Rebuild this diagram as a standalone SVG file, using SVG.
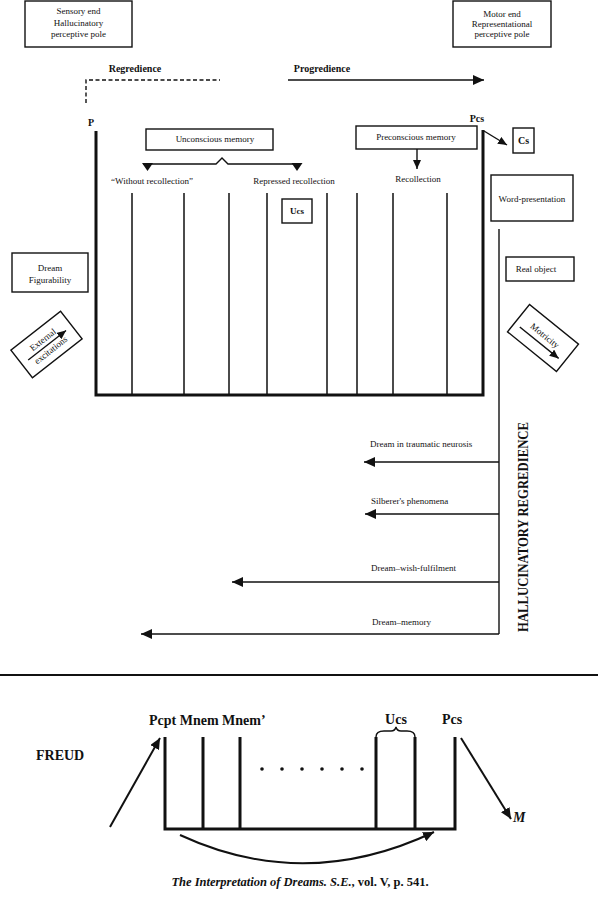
<svg xmlns="http://www.w3.org/2000/svg" width="598" height="900" viewBox="0 0 598 900">
<defs>
<marker id="ah" markerUnits="userSpaceOnUse" markerWidth="9" markerHeight="8" refX="9" refY="4" orient="auto"><path d="M0,0 L9,4 L0,8 z" fill="#111"/></marker>
<marker id="ahb" markerUnits="userSpaceOnUse" markerWidth="11" markerHeight="10" refX="11" refY="5" orient="auto"><path d="M0,0 L11,5 L0,10 z" fill="#111"/></marker>
<style>
text{font-family:"Liberation Serif","Times New Roman",serif;fill:#111}
.s{font-size:9px;text-anchor:middle}
.l{font-size:9px}
.b{font-weight:bold}
.box{fill:none;stroke:#111;stroke-width:1.4}
.th{fill:none;stroke:#111;stroke-width:3}
.tn{fill:none;stroke:#111;stroke-width:1.5}
.c{fill:none;stroke:#111;stroke-width:1.4}
</style>
</defs>
<rect width="598" height="900" fill="#fff"/>

<g id="sensory-pole"><rect class="box" x="25" y="1" width="107" height="46"/>
<text class="s" x="78.5" y="14">Sensory end</text><text class="s" x="78.5" y="26">Hallucinatory</text><text class="s" x="78.5" y="37">perceptive pole</text></g>

<g id="motor-pole"><rect class="box" x="453" y="1" width="98" height="46"/>
<text class="s" x="502" y="17">Motor end</text><text class="s" x="502" y="27">Representational</text><text class="s" x="502" y="37">perceptive pole</text></g>

<g id="regredience"><text class="s b" x="135" y="72" style="font-size:10px">Regredience</text></g>
<g id="progredience"><text class="s b" x="322" y="72" style="font-size:10px">Progredience</text></g>

<g id="apparatus">
<path class="th" d="M96,131 V395 H483 V130"/>
<g class="tn"><path d="M132,193V395M184,193V395M229,193V395M267,193V395M327,193V395M357,193V395M393,193V395M447,193V395"/></g>
<text class="b" x="88" y="126" style="font-size:10px">P</text>
<text class="s b" x="477" y="122" style="font-size:10px">Pcs</text>
</g>

<g id="unconscious-memory"><rect class="box" x="146" y="129" width="127" height="21"/><text class="s" x="215" y="142">Unconscious memory</text></g>
<g id="preconscious-memory"><rect class="box" x="356" y="126" width="121" height="23"/><text class="s" x="416" y="140">Preconscious memory</text></g>
<g id="cs"><rect class="box" x="513" y="128" width="21" height="25"/><text class="s b" x="523.5" y="144" style="font-size:10px">Cs</text></g>
<g id="without-recollection"><text class="s" x="152" y="184">“Without recollection”</text></g>
<g id="repressed-recollection"><text class="s" x="294" y="184">Repressed recollection</text></g>
<g id="recollection"><text class="s" x="418" y="182">Recollection</text></g>
<g id="ucs"><rect class="box" x="282" y="199" width="30" height="24"/><text class="s b" x="297" y="214">Ucs</text></g>
<g id="word-presentation"><rect class="box" x="491" y="175" width="82" height="46"/><text class="s" x="532" y="202">Word-presentation</text></g>
<g id="real-object"><rect class="box" x="506" y="257" width="68" height="24"/><text class="s" x="536" y="272">Real object</text></g>
<g id="dream-figurability"><rect class="box" x="12" y="253" width="76" height="39"/><text class="s" x="50" y="271">Dream</text><text class="s" x="50" y="283">Figurability</text></g>

<g id="external-excitations" transform="translate(46.5,344.5) rotate(-38)"><rect class="box" x="-31.5" y="-17.5" width="63" height="35"/>
<text class="s" x="0" y="-3">External</text><line class="c" x1="-24" y1="1" x2="24" y2="1" marker-end="url(#ah)"/><text class="s" x="0" y="10">excitations</text></g>

<g id="motricity" transform="translate(543,338) rotate(39)"><rect class="box" x="-31.5" y="-17.5" width="63" height="35"/>
<text class="s" x="0" y="0">Motricity</text><line class="c" x1="-25" y1="6" x2="25" y2="6" marker-end="url(#ah)"/></g>

<g id="hallucinatory-regredience"><text class="b" transform="translate(528,527) rotate(-90)" text-anchor="middle" style="font-size:15px" textLength="210" lengthAdjust="spacingAndGlyphs">HALLUCINATORY REGREDIENCE</text></g>

<g id="regression-labels">
<text class="l" x="370" y="447">Dream in traumatic neurosis</text>
<text class="l" x="371" y="504">Silberer's phenomena</text>
<text class="l" x="371" y="571">Dream–wish-fulfilment</text>
<text class="l" x="372" y="625">Dream–memory</text>
</g>

<g id="connectors">
<path class="c" d="M86,103 V80 H220" stroke-dasharray="4,2.5"/>
<line class="c" x1="288" y1="80" x2="484" y2="80" marker-end="url(#ahb)"/>
<path class="c" d="M143,164 H216 L222,158 L228,164 H300"/>
<path d="M142,163 H153 L147.5,171 z M291.5,163 H302.5 L297,171 z" fill="#111"/>
<line class="c" x1="417" y1="149" x2="417" y2="169" marker-end="url(#ah)"/>
<line class="c" x1="484" y1="131" x2="507" y2="145" marker-end="url(#ah)"/>
<path class="c" d="M499,229 V634"/>
<line class="c" x1="499" y1="462" x2="364" y2="462" marker-end="url(#ahb)"/>
<line class="c" x1="499" y1="514" x2="365" y2="514" marker-end="url(#ahb)"/>
<line class="c" x1="499" y1="582" x2="232" y2="582" marker-end="url(#ahb)"/>
<line class="c" x1="499" y1="634" x2="141" y2="634" marker-end="url(#ahb)"/>
</g>

<line id="separator" x1="0" y1="675" x2="598" y2="675" stroke="#111" stroke-width="2.2"/>

<g id="freud-scheme">
<text class="b" x="36" y="760" style="font-size:14px">FREUD</text>
<text class="b" x="149" y="725" style="font-size:14px">Pcpt Mnem Mnem’</text>
<text class="b s" x="396" y="724" style="font-size:14px">Ucs</text>
<text class="b s" x="452" y="724" style="font-size:14px">Pcs</text>
<path class="th" d="M165,737 V829 H455 V737"/>
<path class="th" d="M203,737V829M240,737V829M376,737V829M415,737V829"/>
<path class="c" d="M376,737 Q376,731 384,731 H391 Q395,731 396,727 Q397,731 401,731 H407 Q415,731 415,737"/>
<g fill="#111"><circle cx="262" cy="769" r="1.8"/><circle cx="282" cy="769" r="1.8"/><circle cx="302" cy="769" r="1.8"/><circle cx="322" cy="769" r="1.8"/><circle cx="342" cy="769" r="1.8"/><circle cx="362" cy="769" r="1.8"/></g>
<text class="b" x="513" y="822" style="font-size:14px;font-style:italic">M</text>
</g>

<g id="freud-connectors">
<line x1="110" y1="827" x2="160" y2="738" stroke="#111" stroke-width="2" marker-end="url(#ahb)"/>
<line x1="461" y1="738" x2="511" y2="819" stroke="#111" stroke-width="2" marker-end="url(#ahb)"/>
<path d="M180,835 Q305,893 434,832" fill="none" stroke="#111" stroke-width="2" marker-end="url(#ahb)"/>
</g>

<g id="caption"><text x="300" y="886" text-anchor="middle" class="b" style="font-size:12.5px"><tspan font-style="italic">The Interpretation of Dreams. S.E.</tspan>, vol. V, p. 541.</text></g>
</svg>
